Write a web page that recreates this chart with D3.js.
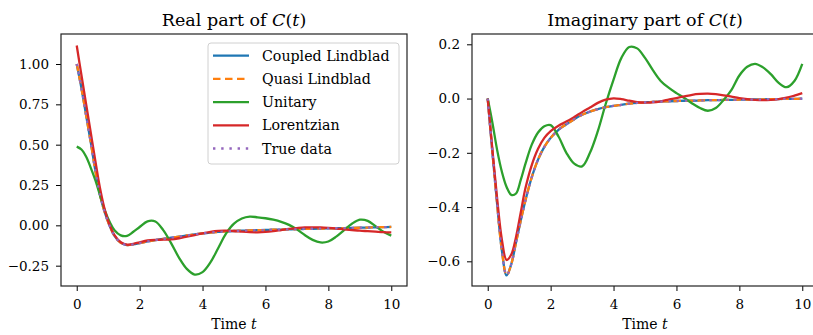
<!DOCTYPE html>
<html lang="en">
<head>
<meta charset="UTF-8">
<title>Real and imaginary part of C(t)</title>
<script src="https://d3js.org/d3.v7.min.js"></script>
<style>
  body { margin: 0; background: #fff; }
  svg text { font-family: "DejaVu Serif", serif; fill: #000; }
</style>
</head>
<body>
<svg width="813" height="335"></svg>
<script>
// time grid
const time = [0, 0.15, 0.3, 0.45, 0.6, 0.75, 0.9, 1.05, 1.2, 1.4, 1.6, 1.8, 2.0, 2.25, 2.5, 2.75,
  3.0, 3.25, 3.5, 3.75, 4.0, 4.25, 4.5, 4.75, 5.0, 5.25, 5.5, 5.75, 6.0, 6.25, 6.5, 6.75,
  7.0, 7.25, 7.5, 7.75, 8.0, 8.25, 8.5, 8.75, 9.0, 9.25, 9.5, 9.75, 10.0];

// real part
const reCoupled = [1.00, 0.85, 0.68, 0.51, 0.33, 0.18, 0.075, -0.005, -0.065, -0.108, -0.122, -0.118, -0.11, -0.1, -0.092, -0.084,
  -0.077, -0.07, -0.063, -0.056, -0.05, -0.045, -0.041, -0.038, -0.035, -0.033, -0.031, -0.03, -0.029, -0.027, -0.026, -0.025,
  -0.024, -0.022, -0.021, -0.02, -0.019, -0.018, -0.017, -0.016, -0.015, -0.014, -0.012, -0.011, -0.01];
const reQuasi = [1.00, 0.85, 0.68, 0.51, 0.33, 0.18, 0.075, -0.005, -0.065, -0.108, -0.122, -0.118, -0.11, -0.1, -0.092, -0.084,
  -0.077, -0.07, -0.063, -0.056, -0.05, -0.045, -0.041, -0.038, -0.035, -0.033, -0.031, -0.03, -0.029, -0.027, -0.026, -0.025,
  -0.024, -0.022, -0.021, -0.02, -0.019, -0.018, -0.017, -0.016, -0.015, -0.014, -0.012, -0.011, -0.01];
const reUnitary = [0.488, 0.47, 0.425, 0.355, 0.275, 0.18, 0.09, 0.02, -0.03, -0.062, -0.065, -0.04, -0.01, 0.025, 0.024, -0.03,
  -0.11, -0.2, -0.27, -0.305, -0.29, -0.23, -0.14, -0.05, 0.01, 0.042, 0.054, 0.05, 0.044, 0.035, 0.022, 0.003,
  -0.025, -0.06, -0.09, -0.106, -0.1, -0.07, -0.03, 0.01, 0.035, 0.028, -0.005, -0.04, -0.064];
const reLorentz = [1.115, 0.93, 0.75, 0.57, 0.39, 0.22, 0.09, 0.0, -0.06, -0.105, -0.12, -0.115, -0.105, -0.094, -0.09, -0.089,
  -0.087, -0.08, -0.07, -0.06, -0.05, -0.04, -0.034, -0.033, -0.035, -0.039, -0.042, -0.043, -0.041, -0.036, -0.029, -0.022,
  -0.017, -0.013, -0.012, -0.013, -0.016, -0.02, -0.025, -0.029, -0.033, -0.036, -0.039, -0.042, -0.044];
const reTrue = [1.00, 0.85, 0.68, 0.51, 0.33, 0.18, 0.075, -0.005, -0.065, -0.108, -0.122, -0.118, -0.11, -0.1, -0.092, -0.084,
  -0.077, -0.07, -0.063, -0.056, -0.05, -0.045, -0.041, -0.038, -0.035, -0.033, -0.031, -0.03, -0.029, -0.027, -0.026, -0.025,
  -0.024, -0.022, -0.021, -0.02, -0.019, -0.018, -0.017, -0.016, -0.015, -0.014, -0.012, -0.011, -0.01];

// imaginary part
const imCoupled = [0, -0.2, -0.39, -0.56, -0.652, -0.61, -0.53, -0.45, -0.375, -0.29, -0.225, -0.178, -0.145, -0.115, -0.095, -0.076,
  -0.06, -0.048, -0.039, -0.032, -0.027, -0.023, -0.019, -0.016, -0.014, -0.012, -0.011, -0.01, -0.009, -0.008, -0.008, -0.007,
  -0.006, -0.006, -0.005, -0.005, -0.004, -0.004, -0.003, -0.003, -0.002, -0.002, -0.001, -0.001, 0];
const imQuasi = [0, -0.2, -0.39, -0.56, -0.652, -0.61, -0.53, -0.45, -0.375, -0.29, -0.225, -0.178, -0.145, -0.115, -0.095, -0.076,
  -0.06, -0.048, -0.039, -0.032, -0.027, -0.023, -0.019, -0.016, -0.014, -0.012, -0.011, -0.01, -0.009, -0.008, -0.008, -0.007,
  -0.006, -0.006, -0.005, -0.005, -0.004, -0.004, -0.003, -0.003, -0.002, -0.002, -0.001, -0.001, 0];
const imUnitary = [0, -0.09, -0.19, -0.27, -0.326, -0.355, -0.35, -0.3, -0.24, -0.17, -0.125, -0.102, -0.098, -0.14, -0.2, -0.24,
  -0.25, -0.2, -0.12, -0.02, 0.07, 0.15, 0.19, 0.185, 0.15, 0.105, 0.065, 0.04, 0.02, 0.002, -0.018, -0.035,
  -0.045, -0.035, -0.005, 0.032, 0.085, 0.117, 0.128, 0.115, 0.09, 0.058, 0.042, 0.065, 0.128];
const imLorentz = [0, -0.19, -0.37, -0.52, -0.595, -0.575, -0.51, -0.42, -0.33, -0.245, -0.185, -0.145, -0.12, -0.1, -0.085, -0.068,
  -0.05, -0.033, -0.016, -0.004, 0.001, -0.002, -0.008, -0.013, -0.015, -0.014, -0.01, -0.004, 0.002, 0.008, 0.014, 0.017,
  0.018, 0.016, 0.012, 0.007, 0.002, -0.002, -0.005, -0.006, -0.005, -0.002, 0.003, 0.011, 0.02];
const imTrue = [0, -0.2, -0.39, -0.56, -0.652, -0.61, -0.53, -0.45, -0.375, -0.29, -0.225, -0.178, -0.145, -0.115, -0.095, -0.076,
  -0.06, -0.048, -0.039, -0.032, -0.027, -0.023, -0.019, -0.016, -0.014, -0.012, -0.011, -0.01, -0.009, -0.008, -0.008, -0.007,
  -0.006, -0.006, -0.005, -0.005, -0.004, -0.004, -0.003, -0.003, -0.002, -0.002, -0.001, -0.001, 0];

const seriesNames = ["Coupled Lindblad", "Quasi Lindblad", "Unitary", "Lorentzian", "True data"];
const xTicks = [0, 2, 4, 6, 8, 10];
const reTicks = [-0.25, 0, 0.25, 0.5, 0.75, 1.0];
const imTicks = [-0.6, -0.4, -0.2, 0, 0.2];

const styles = [
  { color: "#1f77b4", dash: null },
  { color: "#ff7f0e", dash: "7.5,4.5" },
  { color: "#2ca02c", dash: null },
  { color: "#d62728", dash: null },
  { color: "#9467bd", dash: "2.4,5.8" }
];

const panels = [
  { title: "Real part of ", left: 61, right: 407, ydom: [-0.376, 1.186], yticks: reTicks, fmt: ".2f",
    data: [reCoupled, reQuasi, reUnitary, reLorentz, reTrue], legend: true },
  { title: "Imaginary part of ", left: 472, right: 818, ydom: [-0.691, 0.238], yticks: imTicks, fmt: ".1f",
    data: [imCoupled, imQuasi, imUnitary, imLorentz, imTrue], legend: false }
];

const plotTop = 34, plotBottom = 286;
const svg = d3.select("svg");

panels.forEach(p => {
  const x = d3.scaleLinear().domain([-0.5, 10.5]).range([p.left, p.right]);
  const y = d3.scaleLinear().domain(p.ydom).range([plotBottom, plotTop]);
  const g = svg.append("g");

  const clipId = "clip" + p.left;
  g.append("clipPath").attr("id", clipId)
    .append("rect").attr("x", p.left).attr("y", plotTop)
    .attr("width", p.right - p.left).attr("height", plotBottom - plotTop);

  const line = d3.line()
    .x((d, i) => x(time[i]))
    .y(d => y(d))
    .curve(d3.curveCatmullRom);

  const lines = g.append("g").attr("clip-path", `url(#${clipId})`);
  p.data.forEach((vals, k) => {
    lines.append("path")
      .attr("d", line(vals))
      .attr("fill", "none")
      .attr("stroke", styles[k].color)
      .attr("stroke-width", 2.3)
      .attr("stroke-dasharray", styles[k].dash)
      .attr("stroke-linejoin", "round");
  });

  // axes
  const xa = g.append("g").attr("transform", `translate(0,${plotBottom})`)
    .call(d3.axisBottom(x).tickValues(xTicks).tickSize(5).tickPadding(8).tickFormat(d3.format("d")));
  const ya = g.append("g").attr("transform", `translate(${p.left},0)`)
    .call(d3.axisLeft(y).tickValues(p.yticks).tickSize(5).tickPadding(7).tickFormat(d3.format(p.fmt)));
  [xa, ya].forEach(a => {
    a.select(".domain").remove();
    a.selectAll("text").attr("font-size", 13.5).attr("font-family", "DejaVu Serif").attr("fill", "#000");
    a.selectAll("line").attr("stroke", "#000").attr("stroke-width", 1);
  });

  // frame
  g.append("rect")
    .attr("x", p.left).attr("y", plotTop)
    .attr("width", p.right - p.left).attr("height", plotBottom - plotTop)
    .attr("fill", "none").attr("stroke", "#222").attr("stroke-width", 1.2);

  const cx = (p.left + p.right) / 2;
  const t = g.append("text").attr("x", cx).attr("y", 26)
    .attr("text-anchor", "middle").attr("font-size", 17.5);
  t.append("tspan").text(p.title);
  t.append("tspan").attr("font-style", "italic").text("C");
  t.append("tspan").text("(");
  t.append("tspan").attr("font-style", "italic").text("t");
  t.append("tspan").text(")");

  const xl = g.append("text").attr("x", cx).attr("y", 329)
    .attr("text-anchor", "middle").attr("font-size", 14);
  xl.append("tspan").text("Time ");
  xl.append("tspan").attr("font-style", "italic").text("t");

  if (p.legend) {
    const lg = g.append("g");
    lg.append("rect")
      .attr("x", 208).attr("y", 43).attr("width", 191).attr("height", 121)
      .attr("rx", 3).attr("fill", "#fff").attr("fill-opacity", 0.8)
      .attr("stroke", "#d0d0d0").attr("stroke-width", 1);
    seriesNames.forEach((name, k) => {
      const yy = 55.7 + k * 23.2;
      lg.append("line")
        .attr("x1", 213).attr("x2", 249).attr("y1", yy).attr("y2", yy)
        .attr("stroke", styles[k].color).attr("stroke-width", 2.3)
        .attr("stroke-dasharray", styles[k].dash);
      lg.append("text").attr("x", 262).attr("y", yy + 5)
        .attr("font-size", 14.2).text(name);
    });
  }
});
</script>
</body>
</html>
